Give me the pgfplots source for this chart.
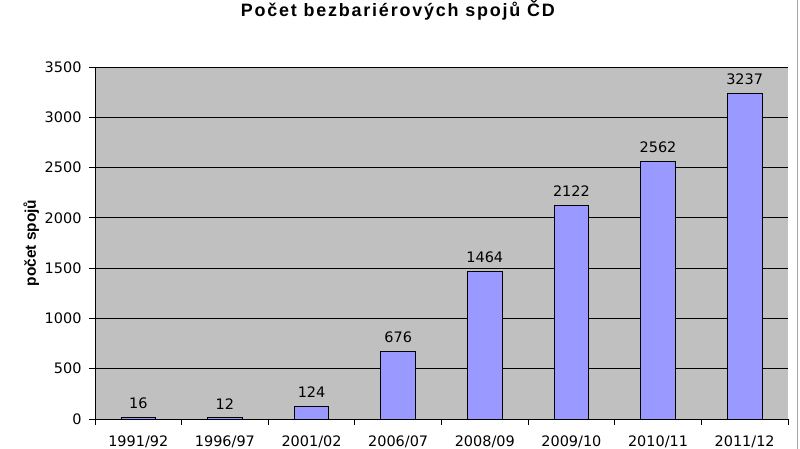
\documentclass[border=0pt]{standalone}
\usepackage{pgfplots}
\pgfplotsset{compat=1.18}
\usepackage{fontspec}
\setmainfont{DejaVu Sans}
\newfontfamily\labelfont{Liberation Sans}
\newfontfamily\titlefont[LetterSpace=10]{Liberation Sans}
\definecolor{plotgray}{HTML}{C0C0C0}
\definecolor{barblue}{HTML}{9999FF}
\begin{document}
\begin{tikzpicture}
\useasboundingbox (-95bp,-30bp) rectangle (705bp,419bp);
\draw[gray!70, line width=1bp] (702bp,-30bp) -- (702bp,419bp);
\begin{axis}[
    at={(0,0)}, anchor=south west,
    scale only axis,
    width=693bp, height=352bp,
    xmin=-0.5, xmax=7.5,
    ymin=0, ymax=3500,
    ytick={0,500,...,3500},
    xtick={0,...,7},
    xticklabels={1991/92,1996/97,2001/02,2006/07,2008/09,2009/10,2010/11,2011/12},
    minor xtick={-0.5,0.5,...,7.5},
    major x tick style={draw=none},
    tick align=outside,
    major tick length=6bp, minor tick length=6bp,
    tick style={black, line width=0.8pt},
    axis x line*=bottom, axis y line*=left,
    axis line style={black, line width=0.8pt},
    axis background/.style={fill=plotgray},
    ymajorgrids,
    grid style={black, line width=0.8pt},
    /pgf/number format/assume math mode=true,
    /pgf/number format/1000 sep={},
    ticklabel style={font=\fontsize{14.5}{16}\selectfont},
    xticklabel style={yshift=-7bp},
    yticklabel style={xshift=-4bp},
    ylabel={počet spojů},
    ylabel style={at={(axis description cs:-0.092,0.5)}, anchor=center,
        font=\labelfont\bfseries\fontsize{15.5}{17}\selectfont},
    title={\titlefont\bfseries Počet bezbariérových spojů ČD},
    title style={at={(axis description cs:0.437,1.143)}, anchor=center,
        font=\fontsize{18}{20}\selectfont},
    ybar, bar width=0.4,
    nodes near coords,
    nodes near coords style={font=\fontsize{14.5}{16}\selectfont, yshift=5bp},
]
\addplot[fill=barblue, draw=black, line width=0.8pt] coordinates {
    (0,16) (1,12) (2,124) (3,676) (4,1464) (5,2122) (6,2562) (7,3237)
};
\end{axis}
\end{tikzpicture}
\end{document}
